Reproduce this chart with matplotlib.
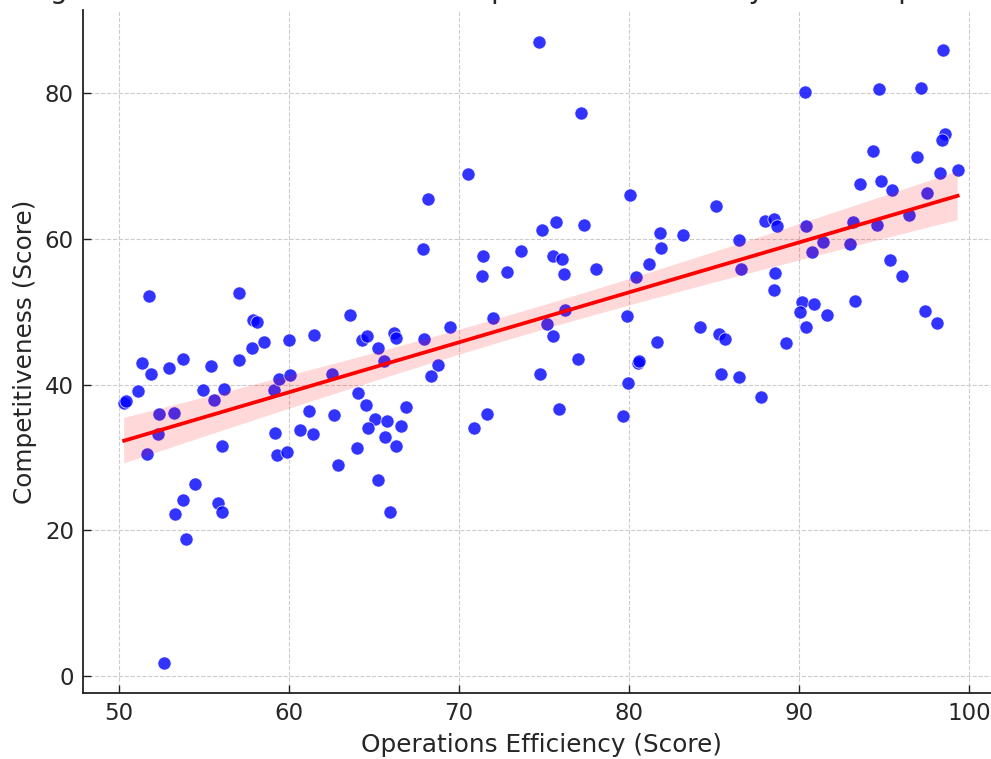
import matplotlib

matplotlib.use('Agg')
import matplotlib.pyplot as plt
import numpy as np

# operations efficiency (x) and competitiveness (y)
ops_efficiency = [
    51.78, 57.04, 57.86, 58.14, 58.55, 60.0, 61.47, 57.84, 57.08, 51.33,
    51.9, 52.94, 53.78, 55.43, 51.1, 50.3, 50.4, 54.96, 55.57, 56.18,
    52.37, 53.22, 52.31, 51.67, 56.06, 59.2, 59.3, 59.9, 60.63, 61.16,
    61.41, 62.63, 62.9, 59.12, 59.39, 60.04, 62.5, 54.49, 53.78, 53.31,
    53.92, 55.84, 56.06, 52.67,
    74.72, 70.55, 68.2, 67.86, 74.9, 75.69, 71.41, 73.63, 71.37, 72.82,
    75.55, 76.04, 76.16, 63.6, 64.28, 64.6, 65.25, 66.2, 66.3, 67.96,
    69.47, 72.02, 75.2, 75.5, 65.59, 68.76, 68.33, 74.75, 64.08, 64.51,
    66.9, 65.08, 65.78, 64.65, 66.59, 65.65, 66.31, 64.0, 65.25, 65.94,
    70.88, 71.63, 75.88,
    77.16, 80.06, 85.14, 77.33, 81.84, 83.16, 81.88, 88.02, 88.53, 88.69,
    86.49, 86.57, 88.61, 88.51, 78.08, 81.16, 80.39, 76.24, 79.9, 84.19,
    85.31, 85.67, 81.67, 76.98, 80.51, 80.6, 85.41, 86.45, 79.94, 87.75,
    79.63,
    98.49, 90.37, 94.72, 97.16, 98.57, 98.41, 94.37, 96.96, 93.57, 94.8,
    95.45, 98.29, 99.33, 97.53, 96.45, 90.41, 93.16, 94.6, 91.41, 93.0,
    90.75, 95.35, 96.08, 90.16, 90.08, 90.88, 93.28, 91.65, 90.41, 97.39,
    98.1, 89.24,
]
competitiveness = [
    52.2, 52.5, 48.9, 48.6, 45.8, 46.1, 46.8, 45.0, 43.3, 42.9,
    41.4, 42.3, 43.5, 42.5, 39.1, 37.4, 37.8, 39.2, 37.9, 39.4,
    35.9, 36.1, 33.2, 30.4, 31.6, 33.4, 30.3, 30.7, 33.7, 36.4,
    33.2, 35.8, 29.0, 39.3, 40.8, 41.3, 41.4, 26.4, 24.2, 22.3,
    18.8, 23.8, 22.5, 1.8,
    86.95, 68.95, 65.45, 58.6, 61.25, 62.25, 57.7, 58.3, 54.85, 55.45,
    57.7, 57.2, 55.15, 49.6, 46.1, 46.65, 45.0, 47.1, 46.4, 46.25,
    47.9, 49.1, 48.25, 46.65, 43.2, 42.7, 41.15, 41.5, 38.9, 37.2,
    36.9, 35.2, 35.0, 34.1, 34.35, 32.85, 31.6, 31.3, 26.85, 22.55,
    34.05, 35.9, 36.7,
    77.25, 66.0, 64.5, 61.85, 60.75, 60.55, 58.8, 62.4, 62.75, 61.8,
    59.8, 55.85, 55.35, 53.0, 55.85, 56.6, 54.7, 50.2, 49.45, 47.85,
    46.9, 46.25, 45.9, 43.5, 43.0, 43.2, 41.5, 41.05, 40.25, 38.35,
    35.7,
    85.85, 80.1, 80.5, 80.7, 74.4, 73.55, 72.1, 71.2, 67.5, 67.9,
    66.75, 69.0, 69.4, 66.3, 63.3, 61.7, 62.25, 61.95, 59.5, 59.3,
    58.2, 57.05, 54.85, 51.35, 49.95, 51.1, 51.5, 49.6, 47.95, 50.1,
    48.5, 45.7,
]
x_ticks = [50, 60, 70, 80, 90, 100]
y_ticks = [0, 20, 40, 60, 80]

x = np.array(ops_efficiency)
y = np.array(competitiveness)

# least squares fit with a 95% confidence band for the mean
slope, intercept = np.polyfit(x, y, 1)
grid = np.linspace(x.min(), x.max(), 100)
fit = intercept + slope * grid
resid = y - (intercept + slope * x)
n = len(x)
s = np.sqrt(np.sum(resid ** 2) / (n - 2))
sxx = np.sum((x - x.mean()) ** 2)
se = s * np.sqrt(1 / n + (grid - x.mean()) ** 2 / sxx)
t_val = 1.976

text_color = '#262626'
plt.rcParams['font.family'] = 'DejaVu Sans'

fig = plt.figure(figsize=(9.91, 7.59), dpi=100)
# axes runs a little past the right edge of the picture, as in the reference
ax = fig.add_axes([83 / 991, 66 / 759, 917 / 991, 683 / 759])

ax.scatter(x, y, s=90, color='blue', alpha=0.8, edgecolors='white', linewidths=0.6, zorder=2)
ax.plot(grid, fit, color='red', linewidth=2.7, zorder=3)
ax.fill_between(grid, fit - t_val * se, fit + t_val * se, facecolor='red', alpha=0.15,
                linewidth=0, zorder=4)

ax.set_xlim(47.88, 101.82)
ax.set_ylim(-2.33, 91.39)
ax.set_xticks(x_ticks)
ax.set_yticks(y_ticks)
ax.grid(True, linestyle='--', color='#cccccc', linewidth=0.8, zorder=0)
ax.set_axisbelow(True)

for side in ['top', 'right']:
    ax.spines[side].set_visible(False)
for side in ['left', 'bottom']:
    ax.spines[side].set_linewidth(1.3)
    ax.spines[side].set_color('#222222')

ax.tick_params(direction='in', length=5.5, width=1.0, color='#222222',
               labelsize=16.5, labelcolor=text_color, pad=6.5)
ax.set_xlabel('Operations Efficiency (Score)', fontsize=17.8, color=text_color, labelpad=6)
ax.set_ylabel('Competitiveness (Score)', fontsize=17.8, color=text_color, labelpad=6)

# title sits just above the top edge, only its descenders show
fig.text(541.5 / 991, 1 + 2 / 759,
         'Regression Results Between the Operations Efficiency and Competitiveness',
         ha='center', va='baseline', fontsize=20, color=text_color)

fig.savefig('out.png', dpi=100)
